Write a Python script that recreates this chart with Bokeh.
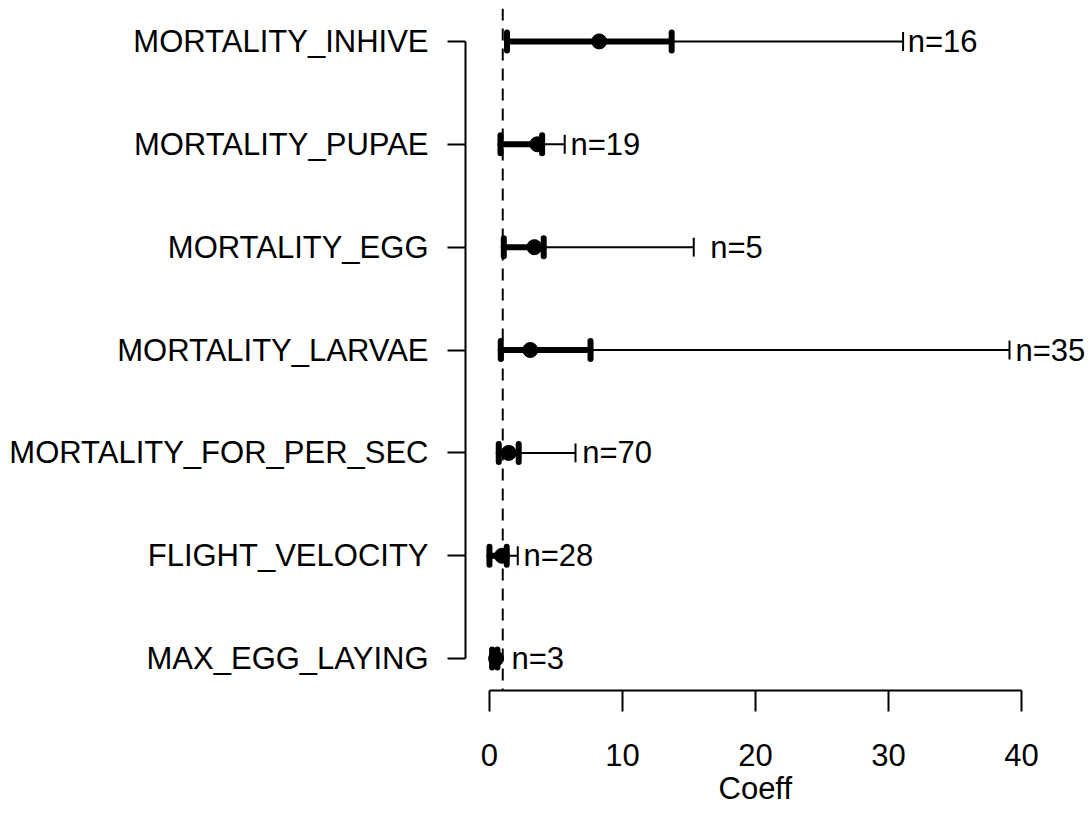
from bokeh.plotting import figure
from bokeh.models import FixedTicker, ColumnDataSource, Span, Range1d, Title
from bokeh.core.properties import value
from bokeh.embed import file_html
from bokeh.resources import INLINE

# ---- data ----
variables = ["MAX_EGG_LAYING", "FLIGHT_VELOCITY", "MORTALITY_FOR_PER_SEC",
             "MORTALITY_LARVAE", "MORTALITY_EGG", "MORTALITY_PUPAE", "MORTALITY_INHIVE"]
coef     = [0.50, 0.95, 1.45, 3.07, 3.38, 3.60, 8.25]
inner_lo = [0.20, 0.00, 0.70, 0.85, 1.08, 0.83, 1.32]
inner_hi = [0.60, 1.30, 2.20, 7.60, 4.08, 3.96, 13.70]
outer_hi = [0.65, 2.13, 6.47, 39.10, 15.36, 5.66, 31.10]
n_obs    = [3, 28, 70, 35, 5, 19, 16]
label_x  = [1.65, 2.56, 6.97, 39.55, 16.60, 6.09, 31.45]
ref_value = 1.0
x_ticks = [0, 10, 20, 30, 40]

FONT = "Liberation Sans"
FS = "31px"

ypos = list(range(1, len(variables) + 1))
cap_thick = 0.0875
cap_thin = 0.092

src = ColumnDataSource(dict(
    y=ypos, coef=coef, lo=inner_lo, hi=inner_hi, up=outer_hi,
    ytk0=[v - cap_thick for v in ypos], ytk1=[v + cap_thick for v in ypos],
    ytn0=[v - cap_thin for v in ypos], ytn1=[v + cap_thin for v in ypos],
    lx=label_x, lab=[f"n={n}" for n in n_obs],
))

p = figure(width=1088, height=826, output_backend="svg", toolbar_location=None,
           x_range=Range1d(-1.8, 45.04), y_range=Range1d(0.69, 7.32),
           min_border_left=465, min_border_right=0, min_border_top=8, min_border_bottom=136)
p.outline_line_color = None
p.xgrid.visible = False
p.ygrid.visible = False
p.background_fill_color = "white"
p.border_fill_color = "white"

# reference line
p.add_layout(Span(location=ref_value, dimension="height", line_color="black",
                  line_width=2, line_dash="12 8"))

# thin whisker to upper bound
p.segment(x0="coef", y0="y", x1="up", y1="y", source=src, line_color="black", line_width=2)
p.segment(x0="up", y0="ytn0", x1="up", y1="ytn1", source=src, line_color="black", line_width=2)

# thick inner interval
p.segment(x0="lo", y0="y", x1="hi", y1="y", source=src, line_color="black", line_width=6,
          line_cap="round")
p.segment(x0="lo", y0="ytk0", x1="lo", y1="ytk1", source=src, line_color="black", line_width=6,
          line_cap="round")
p.segment(x0="hi", y0="ytk0", x1="hi", y1="ytk1", source=src, line_color="black", line_width=6,
          line_cap="round")

# point estimate
p.scatter(x="coef", y="y", source=src, size=15, fill_color="black", line_color="black")

# n labels
p.text(x="lx", y="y", text="lab", source=src, text_font_size=FS, text_baseline="middle",
       text_align="left", text_color="black", text_font=value(FONT))

# x axis
xa = p.xaxis[0]
xa.ticker = FixedTicker(ticks=x_ticks)
xa.bounds = (0, 40)
xa.minor_tick_line_color = None
xa.major_tick_in = 0
xa.major_tick_out = 21
xa.major_tick_line_width = 2
xa.axis_line_width = 2
xa.major_label_text_font = FONT
xa.major_label_text_font_size = FS
xa.major_label_text_color = "black"
xa.major_label_standoff = 32

# x axis title, centred under the 0-40 axis
p.add_layout(Title(text="Coeff", align="left", offset=253, standoff=1,
                   text_font=FONT, text_font_size=FS, text_font_style="normal",
                   text_color="black"), "below")

# y axis
ya = p.yaxis[0]
ya.ticker = FixedTicker(ticks=ypos)
ya.bounds = (1, len(variables))
ya.major_label_overrides = {i: v for i, v in zip(ypos, variables)}
ya.minor_tick_line_color = None
ya.major_tick_in = 0
ya.major_tick_out = 18
ya.major_tick_line_width = 2
ya.axis_line_width = 2
ya.major_label_text_font = FONT
ya.major_label_text_font_size = FS
ya.major_label_text_color = "black"
ya.major_label_standoff = 19

open("out.html", "w").write(file_html(p, INLINE))
